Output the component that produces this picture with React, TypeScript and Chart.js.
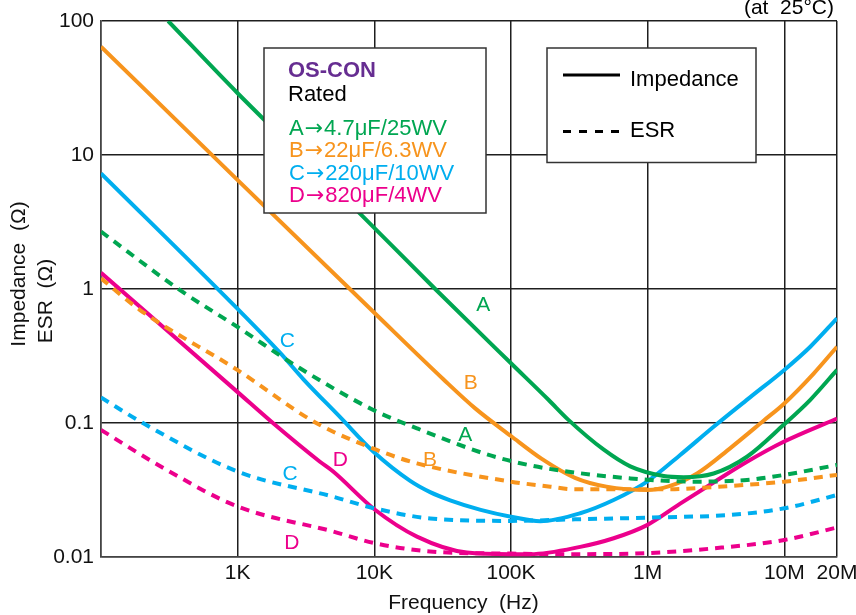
import React, { useEffect, useRef } from "react";
import { Chart, registerables } from "chart.js";

Chart.register(...registerables);

// ---------- axes ----------
const X_MIN = 100;
const X_MAX = 2.43e7; // right edge of the plot, labelled "20M"
const Y_MIN = 0.01;
const Y_MAX = 100;
const X_TICKS = [100, 1e3, 1e4, 1e5, 1e6, 1e7, X_MAX];
const X_TICK_LABELS = ["", "1K", "10K", "100K", "1M", "10M", "20M"];
const Y_TICKS = [0.01, 0.1, 1, 10, 100];
const Y_TICK_LABELS = ["0.01", "0.1", "1", "10", "100"];
const X_TITLE = "Frequency  (Hz)";
const Y_TITLE_LINES = ["Impedance  (\u03a9)", "ESR  (\u03a9)"];

// ---------- series (frequency Hz, ohms) ----------
// A: 4.7uF/25WV
const A_Z_HZ = [310, 1e3, 7.6e3, 2.79e4, 1e5, 1.88e5, 2.62e5, 4.75e5, 7.46e5, 1.31e6, 1.83e6, 3.04e6, 5.33e6, 9.9e6, 1.55e7, 2.43e7];
const A_Z_OHM = [100, 28.9, 3.78, 1.0, 0.279, 0.149, 0.106, 0.0635, 0.0475, 0.0402, 0.0394, 0.042, 0.056, 0.097, 0.149, 0.249];
const A_ESR_HZ = [100, 379, 1e3, 2.86e3, 1e4, 2.05e4, 6.3e4, 1e5, 1.9e5, 7.46e5, 2.3e6, 5.33e6, 1e7, 2.43e7];
const A_ESR_OHM = [2.68, 0.98, 0.52, 0.256, 0.124, 0.0912, 0.0594, 0.052, 0.0455, 0.0386, 0.0365, 0.0376, 0.041, 0.0486];

// B: 22uF/6.3WV
const B_Z_HZ = [100, 1e3, 1e4, 3.2e4, 5.5e4, 1e5, 1.68e5, 2.94e5, 5e5, 1e6, 1.44e6, 2.3e6, 4.03e6, 7.05e6, 1e7, 1.64e7, 2.43e7];
const B_Z_OHM = [64.3, 6.5, 0.665, 0.212, 0.128, 0.08, 0.054, 0.039, 0.0335, 0.0316, 0.0338, 0.042, 0.065, 0.104, 0.14, 0.234, 0.371];
const B_ESR_HZ = [100, 193, 1e3, 3.76e3, 1e4, 2.05e4, 1e5, 1.94e5, 2.94e5, 1.31e6, 4.03e6, 1e7, 2.43e7];
const B_ESR_OHM = [1.2, 0.697, 0.248, 0.1, 0.064, 0.05, 0.0365, 0.0335, 0.032, 0.032, 0.0339, 0.0365, 0.041];

// C: 220uF/10WV
const C_Z_HZ = [100, 1e3, 2.04e3, 3.03e3, 5.6e3, 9.86e3, 1.83e4, 2.56e4, 3.59e4, 6e4, 1e5, 1.64e5, 3.21e5, 5.64e5, 9.9e5, 1.73e6, 3.04e6, 5.64e6, 1e7, 1.55e7, 2.43e7];
const C_Z_OHM = [7.3, 0.71, 0.335, 0.212, 0.111, 0.061, 0.037, 0.0305, 0.0265, 0.0225, 0.02, 0.0185, 0.0212, 0.0266, 0.0365, 0.0577, 0.0937, 0.156, 0.249, 0.371, 0.604];
const C_ESR_HZ = [100, 204, 1e3, 5e3, 1e4, 2.56e4, 1e5, 2.94e5, 1.31e6, 4.03e6, 1e7, 2.43e7];
const C_ESR_OHM = [0.155, 0.0995, 0.0434, 0.0282, 0.0231, 0.0194, 0.0186, 0.0191, 0.0198, 0.0206, 0.0231, 0.029];

// D: 820uF/4WV
const D_Z_HZ = [100, 1e3, 1.82e3, 4.0e3, 5.0e3, 1e4, 2.05e4, 4.75e4, 1e5, 1.38e5, 3.21e5, 5.64e5, 9.9e5, 1.73e6, 3.04e6, 5.33e6, 9.9e6, 2.43e7];
const D_Z_OHM = [1.32, 0.17, 0.0995, 0.0514, 0.0434, 0.0227, 0.0142, 0.0108, 0.0105, 0.0105, 0.0119, 0.0138, 0.0173, 0.025, 0.036, 0.0514, 0.0725, 0.108];
const D_ESR_HZ = [100, 303, 1e3, 5e3, 1e4, 2.56e4, 1e5, 2.94e5, 1e6, 3.04e6, 1e7, 2.43e7];
const D_ESR_OHM = [0.0887, 0.0446, 0.0238, 0.0155, 0.0127, 0.011, 0.0106, 0.0105, 0.0107, 0.0116, 0.0134, 0.0166];

// ---------- curve labels ----------
const CURVE_LABEL_TEXT = ["A", "B", "C", "D", "A", "B", "C", "D"];
const CURVE_LABEL_HZ = [6.27e4, 5.08e4, 2.31e3, 5.63e3, 4.62e4, 2.56e4, 2.42e3, 2.49e3];
const CURVE_LABEL_OHM = [0.76, 0.198, 0.405, 0.053, 0.0813, 0.053, 0.0416, 0.0126];
const CURVE_LABEL_SERIES = [0, 1, 2, 3, 0, 1, 2, 3];

const SERIES_NAMES = ["A", "B", "C", "D"];
const SERIES_COLORS = ["#00a651", "#f7941d", "#00aeef", "#ec008c"];
const SERIES_RATING = ["4.7\u03bcF/25WV", "22\u03bcF/6.3WV", "220\u03bcF/10WV", "820\u03bcF/4WV"];

const FONT = "'Liberation Sans', Arial, Helvetica, sans-serif";
const ARROW_FONT = "'DejaVu Sans', sans-serif";

function pts(hz: number[], ohm: number[]) {
  return hz.map((x, i) => ({ x, y: ohm[i] }));
}

const annotations = {
  id: "annotations",
  afterDatasetsDraw(chart: any) {
    const ctx = chart.ctx as CanvasRenderingContext2D;
    const xs = chart.scales.x;
    const ys = chart.scales.y;
    ctx.save();

    // curve labels
    ctx.font = `21px ${FONT}`;
    ctx.textAlign = "center";
    ctx.textBaseline = "middle";
    CURVE_LABEL_TEXT.forEach((t, i) => {
      ctx.fillStyle = SERIES_COLORS[CURVE_LABEL_SERIES[i]];
      ctx.fillText(t, xs.getPixelForValue(CURVE_LABEL_HZ[i]), ys.getPixelForValue(CURVE_LABEL_OHM[i]));
    });

    // axis titles
    ctx.fillStyle = "#111111";
    ctx.font = `21px ${FONT}`;
    ctx.fillText(X_TITLE, 463.5, 603.5);
    const yTitlePos = [
      [19.5, 274],
      [46, 301],
    ];
    Y_TITLE_LINES.forEach((t, i) => {
      ctx.save();
      ctx.translate(yTitlePos[i][0], yTitlePos[i][1]);
      ctx.rotate(-Math.PI / 2);
      ctx.fillText(t, 0, 0);
      ctx.restore();
    });

    // OS-CON box
    ctx.fillStyle = "#ffffff";
    ctx.strokeStyle = "#333333";
    ctx.lineWidth = 1.5;
    ctx.fillRect(264, 48, 222, 165);
    ctx.strokeRect(264, 48, 222, 165);
    ctx.textAlign = "left";
    ctx.textBaseline = "alphabetic";
    ctx.font = `bold 22px ${FONT}`;
    ctx.fillStyle = "#662d91";
    ctx.fillText("OS-CON", 288, 77);
    ctx.font = `22px ${FONT}`;
    ctx.fillStyle = "#000000";
    ctx.fillText("Rated", 288, 101);
    SERIES_NAMES.forEach((n, i) => {
      const y = 135 + i * 22.3;
      let x = 289;
      ctx.fillStyle = SERIES_COLORS[i];
      ctx.font = `22px ${FONT}`;
      ctx.fillText(n, x, y);
      x += ctx.measureText(n).width + 1;
      ctx.font = `22px ${ARROW_FONT}`;
      ctx.fillText("\u2192", x, y);
      x += ctx.measureText("\u2192").width + 1;
      ctx.font = `22px ${FONT}`;
      ctx.fillText(SERIES_RATING[i], x, y);
    });

    // line-style legend box
    ctx.fillStyle = "#ffffff";
    ctx.strokeStyle = "#333333";
    ctx.lineWidth = 1.5;
    ctx.fillRect(547, 48, 209, 114.5);
    ctx.strokeRect(547, 48, 209, 114.5);
    ctx.strokeStyle = "#000000";
    ctx.lineWidth = 3;
    ctx.beginPath();
    ctx.moveTo(563, 75);
    ctx.lineTo(620, 75);
    ctx.stroke();
    ctx.setLineDash([8, 8]);
    ctx.beginPath();
    ctx.moveTo(563, 131.5);
    ctx.lineTo(619, 131.5);
    ctx.stroke();
    ctx.setLineDash([]);
    ctx.fillStyle = "#000000";
    ctx.font = `22px ${FONT}`;
    ctx.fillText("Impedance", 630, 86);
    ctx.fillText("ESR", 630, 137);

    // temperature note
    ctx.textAlign = "right";
    ctx.font = `21px ${FONT}`;
    ctx.fillText("(at  25\u00b0C)", 834, 14);
    ctx.restore();
  },
};

export default function App() {
  const ref = useRef<HTMLCanvasElement | null>(null);

  useEffect(() => {
    document.body.style.margin = "0";
    const canvas = ref.current;
    if (!canvas) return;

    const impedance = [
      pts(A_Z_HZ, A_Z_OHM),
      pts(B_Z_HZ, B_Z_OHM),
      pts(C_Z_HZ, C_Z_OHM),
      pts(D_Z_HZ, D_Z_OHM),
    ];
    const esr = [
      pts(A_ESR_HZ, A_ESR_OHM),
      pts(B_ESR_HZ, B_ESR_OHM),
      pts(C_ESR_HZ, C_ESR_OHM),
      pts(D_ESR_HZ, D_ESR_OHM),
    ];

    const datasets: any[] = [];
    SERIES_NAMES.forEach((n, i) => {
      datasets.push({
        label: `${n} ESR`,
        data: esr[i],
        borderColor: SERIES_COLORS[i],
        borderWidth: 4,
        borderDash: [9, 7],
        borderCapStyle: "butt",
        pointRadius: 0,
        cubicInterpolationMode: "monotone",
        fill: false,
      });
    });
    SERIES_NAMES.forEach((n, i) => {
      datasets.push({
        label: `${n} Impedance`,
        data: impedance[i],
        borderColor: SERIES_COLORS[i],
        borderWidth: 4,
        pointRadius: 0,
        cubicInterpolationMode: "monotone",
        fill: false,
      });
    });

    const tickFont = { family: FONT, size: 21 };

    const chart = new Chart(canvas, {
      type: "line",
      data: { datasets },
      options: {
        animation: false,
        responsive: false,
        devicePixelRatio: 1,
        layout: { padding: { top: 21, right: 19, bottom: 0, left: 0 } },
        plugins: { legend: { display: false }, tooltip: { enabled: false } },
        scales: {
          x: {
            type: "logarithmic",
            min: X_MIN,
            max: X_MAX,
            afterBuildTicks: (s: any) => {
              s.ticks = X_TICKS.map((v) => ({ value: v }));
            },
            afterFit: (s: any) => {
              s.height = 58;
              s.paddingLeft = 0;
              s.paddingRight = 0;
            },
            ticks: {
              callback: (_v: any, i: number) => X_TICK_LABELS[i],
              font: tickFont,
              color: "#111111",
              maxRotation: 0,
              minRotation: 0,
              autoSkip: false,
              padding: 4,
            },
            grid: { color: "#1e1e1e", lineWidth: 1.5, drawTicks: false },
            border: { color: "#444444", width: 1.5 },
            title: { display: false },
          },
          y: {
            type: "logarithmic",
            min: Y_MIN,
            max: Y_MAX,
            afterBuildTicks: (s: any) => {
              s.ticks = Y_TICKS.map((v) => ({ value: v }));
            },
            afterFit: (s: any) => {
              s.width = 101;
              s.paddingTop = 0;
              s.paddingBottom = 0;
            },
            ticks: {
              callback: (_v: any, i: number) => Y_TICK_LABELS[i],
              font: tickFont,
              color: "#111111",
              autoSkip: false,
              padding: 7,
            },
            grid: { color: "#1e1e1e", lineWidth: 1.5, drawTicks: false },
            border: { color: "#444444", width: 1.5 },
            title: { display: false },
          },
        },
      },
      plugins: [annotations],
    } as any);

    return () => chart.destroy();
  }, []);

  return (
    <div style={{ width: 856, height: 615 }}>
      <canvas ref={ref} width={856} height={615} style={{ display: "block" }} />
    </div>
  );
}
